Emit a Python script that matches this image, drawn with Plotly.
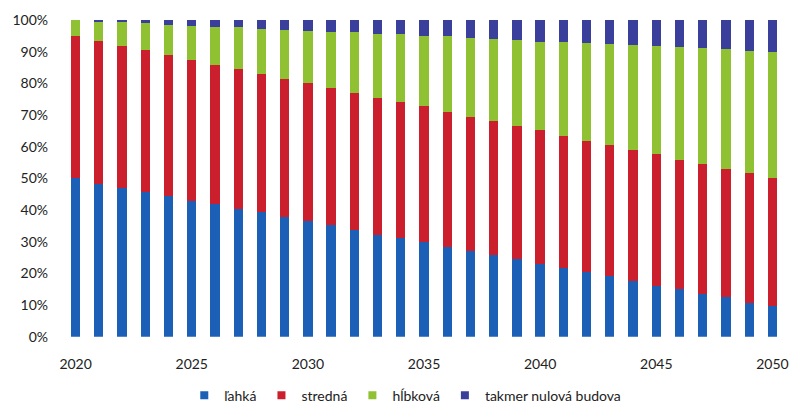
import plotly.graph_objects as go

# Years on the horizontal axis
years = list(range(2020, 2051))

# Share of renovation types (%) per year
lahka = [50.0, 48.3, 47.0, 45.7, 44.3, 43.0, 41.9, 40.3, 39.3, 37.8, 36.4,
         35.3, 33.8, 32.2, 31.3, 29.8, 28.2, 27.2, 25.7, 24.4, 23.1,
         21.6, 20.4, 19.1, 17.6, 16.1, 15.1, 13.6, 12.4, 10.8, 9.6]
stredna = [45.1, 45.0, 44.8, 44.7, 44.7, 44.5, 43.9, 44.2, 43.7, 43.7, 43.6,
           43.1, 43.1, 43.2, 42.7, 42.9, 42.7, 42.3, 42.3, 42.2, 42.1,
           41.7, 41.5, 41.5, 41.5, 41.5, 40.7, 40.8, 40.6, 40.8, 40.5]
hlbkova = [4.9, 6.2, 7.5, 8.6, 9.5, 10.5, 12.0, 13.2, 14.3, 15.5, 16.5,
           17.9, 19.2, 20.3, 21.5, 22.4, 24.0, 24.8, 26.1, 27.0, 28.0,
           29.7, 30.7, 31.7, 32.9, 34.1, 35.7, 36.8, 37.9, 38.5, 39.7]
nzeb = [0.0, 0.5, 0.7, 1.0, 1.5, 2.0, 2.2, 2.3, 2.7, 3.0, 3.5,
        3.7, 3.9, 4.3, 4.5, 4.9, 5.1, 5.7, 5.9, 6.4, 6.8,
        7.0, 7.4, 7.7, 8.0, 8.3, 8.5, 8.8, 9.1, 9.9, 10.2]

series_names = ["ľahká", "stredná", "hĺbková", "takmer nulová budova"]
series_values = [lahka, stredna, hlbkova, nzeb]
colors = ["#1b5fb6", "#cb1f2d", "#8fc133", "#3b3f9c"]

x_ticks = [2020, 2025, 2030, 2035, 2040, 2045, 2050]
y_ticks = [0, 10, 20, 30, 40, 50, 60, 70, 80, 90, 100]

fig = go.Figure()
for name, vals, col in zip(series_names, series_values, colors):
    fig.add_trace(go.Bar(
        x=years, y=vals, name=name, width=0.4, showlegend=False,
        legendgroup=name,
        marker=dict(color=col, line=dict(width=0)),
    ))
# Small square swatches for the legend
for name, col in zip(series_names, colors):
    fig.add_trace(go.Scatter(
        x=[None], y=[None], mode="markers", name=name, legendgroup=name,
        marker=dict(symbol="square", size=8, color=col),
    ))

font_family = "Lato, 'Open Sans', sans-serif"
fig.update_layout(
    barmode="stack",
    barnorm="percent",
    width=797, height=403,
    margin=dict(l=64, r=8, t=20, b=66),
    paper_bgcolor="white", plot_bgcolor="white",
    font=dict(family=font_family, size=14, color="#222222"),
    showlegend=True,
    legend=dict(
        orientation="h", xanchor="center", x=0.474,
        yref="container", yanchor="middle", y=0.018,
        font=dict(size=14), traceorder="normal",
        itemwidth=30, tracegroupgap=0,
    ),
    xaxis=dict(
        range=[2019.5, 2050.5], tickvals=x_ticks,
        ticktext=[str(v) for v in x_ticks],
        showgrid=False, zeroline=False, showline=False,
        ticks="", ticklabelstandoff=17,
    ),
    yaxis=dict(
        range=[0, 100], tickvals=y_ticks,
        ticktext=[f"{v}%" for v in y_ticks],
        showgrid=False, zeroline=False, showline=False,
        ticks="", ticklabelstandoff=15,
    ),
)

fig.write_html("out.html")
